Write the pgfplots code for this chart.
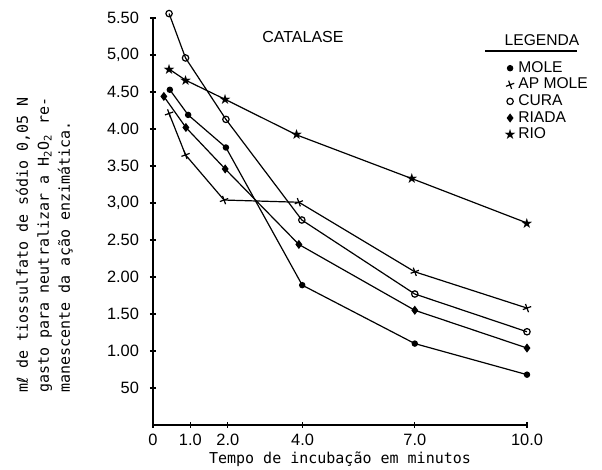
\documentclass[border=0pt]{standalone}
\usepackage{fontspec}
\setmainfont{Liberation Sans}
\newfontfamily\mono{DejaVu Sans Mono}
\newfontfamily\dejavu{DejaVu Sans}
\usepackage{pgfplots}
\pgfplotsset{compat=1.18}

\begin{document}
\begin{tikzpicture}
\begin{axis}[
  name=ax,
  scale only axis, width=187pt, height=203.5pt,
  xmin=0, xmax=10, ymin=0, ymax=5.5,
  axis x line*=bottom, axis y line*=left,
  axis line style={-, line width=0.9pt},
  clip=false,
  xtick={0,1,2,4,7,10},
  xticklabels={0,1.0,2.0,4.0,7.0,10.0},
  ytick={0.5,1,1.5,2,2.5,3,3.5,4,4.5,5,5.5},
  yticklabels={50,1.00,1.50,2.00,2.50,{3,00},3.50,4.00,4.50,{5,00},5.50},
  tick align=center, major tick length=3pt,
  tick style={black, line width=0.6pt},
  ticklabel style={font=\fontsize{8.2}{9}\selectfont},
  yticklabel style={xshift=-2pt},
  xticklabel style={yshift=0.5pt},
  xlabel={Tempo de incubação em minutos},
  xlabel style={font=\mono\fontsize{7.5}{9}\selectfont, at={(axis description cs:0.5,-0.083)}, anchor=center, inner sep=0pt},
  ylabel={m{\dejavu ℓ} de tiossulfato de sódio 0,05 N\\gasto para neutralizar a H\textsubscript{2}O\textsubscript{2} re-\\manescente da ação enzimática.},
  ylabel style={font=\mono\fontsize{7.5}{10.5}\selectfont, align=left, at={(axis description cs:-0.368,0.079)}, anchor=north west, inner sep=0pt},
  every axis plot/.append style={line width=0.6pt, black},
  legend image code/.code={\draw[#1] plot coordinates {(0pt,0pt)};},
  legend cell align=left,
  legend style={draw=none, fill=none, at={(axis description cs:0.937,0.9)}, anchor=north west,
    font=\fontsize{7.8}{8}\selectfont, row sep=-0.8pt, inner sep=0pt,
    nodes={inner sep=1pt, text height=5.6pt, text depth=1.5pt}},
]
% MOLE
\addplot[mark=*, mark size=1.3pt] coordinates {
  (0.45,4.53) (0.94,4.19) (1.95,3.75) (3.99,1.89) (7.0,1.10) (10,0.68)};
\addlegendentry{MOLE}
% AP MOLE
\addplot[mark=+, mark size=2.2pt, mark options={rotate=20}] coordinates {
  (0.43,4.21) (0.87,3.65) (1.90,3.04) (3.90,3.01) (7.0,2.07) (10,1.58)};
\addlegendentry{AP MOLE}
% CURA
\addplot[mark=o, mark size=1.6pt, mark options={fill=white}] coordinates {
  (0.43,5.56) (0.87,4.96) (1.95,4.13) (3.98,2.77) (7.0,1.77) (10,1.26)};
\addlegendentry{CURA}
% RIADA
\addplot[mark=diamond*, mark size=1.8pt] coordinates {
  (0.29,4.44) (0.88,4.02) (1.93,3.46) (3.90,2.44) (7.0,1.55) (10,1.04)};
\addlegendentry{RIADA}
% RIO
\addplot[mark=text, text mark={\fontsize{7}{7}\selectfont\dejavu ★}] coordinates {
  (0.43,4.81) (0.87,4.66) (1.93,4.40) (3.84,3.92) (6.92,3.33) (10,2.73)};
\addlegendentry{RIO}

\node[font=\fontsize{8}{8}\selectfont] at (axis description cs:0.401,0.953) {CATALASE};
\node[font=\fontsize{7.8}{8}\selectfont] at (axis description cs:1.04,0.946) {LEGENDA};
\draw[line width=0.6pt] (axis description cs:0.888,0.919) -- (axis description cs:1.134,0.919);
\end{axis}
\path (ax.south west) ++(-76.5pt,-22.5pt) rectangle ++(301pt,235pt);
\end{tikzpicture}
\end{document}
